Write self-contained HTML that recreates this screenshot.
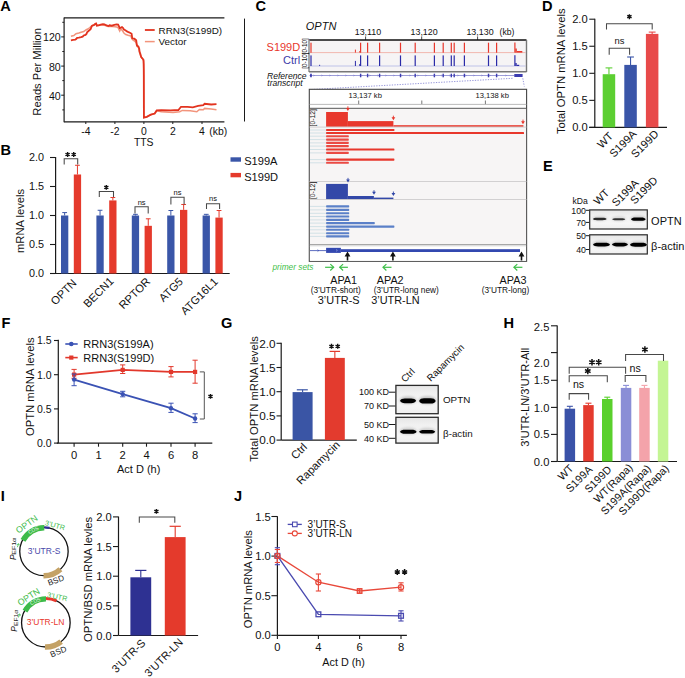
<!DOCTYPE html>
<html><head><meta charset="utf-8"><style>
html,body{margin:0;padding:0;background:#fff;}
svg{display:block;font-family:"Liberation Sans", sans-serif;}
</style></head><body>
<svg width="685" height="678" viewBox="0 0 685 678">
<defs>
<filter id="blur1" x="-20%" y="-50%" width="140%" height="200%"><feGaussianBlur stdDeviation="0.9"/></filter>
<filter id="blur2" x="-30%" y="-80%" width="160%" height="260%"><feGaussianBlur stdDeviation="1.2"/></filter>
<filter id="blur3" x="-20%" y="-80%" width="140%" height="260%"><feGaussianBlur stdDeviation="0.45"/></filter>
<linearGradient id="gBlot" x1="0" y1="0" x2="0" y2="1"><stop offset="0" stop-color="#e6e6e6"/><stop offset="0.3" stop-color="#f1f1f1"/><stop offset="0.7" stop-color="#f6f6f6"/><stop offset="1" stop-color="#efefef"/></linearGradient>
</defs>
<text x="0.3" y="10.9" font-size="14.6" text-anchor="start" fill="#000" font-weight="bold" >A</text>
<line x1="64.1" y1="17.4" x2="64.1" y2="122.3" stroke="#1a1a1a" stroke-width="1.2" />
<line x1="64.1" y1="17.9" x2="224.4" y2="17.9" stroke="#1a1a1a" stroke-width="1.2" />
<line x1="64.1" y1="121.8" x2="224.4" y2="121.8" stroke="#1a1a1a" stroke-width="1.2" />
<line x1="61.2" y1="36.9" x2="64.1" y2="36.9" stroke="#1a1a1a" stroke-width="1" />
<text x="60.7" y="41.4" font-size="10.6" text-anchor="end" fill="#111" >120</text>
<line x1="61.2" y1="66.1" x2="64.1" y2="66.1" stroke="#1a1a1a" stroke-width="1" />
<text x="60.7" y="70.6" font-size="10.6" text-anchor="end" fill="#111" >80</text>
<line x1="61.2" y1="95.2" x2="64.1" y2="95.2" stroke="#1a1a1a" stroke-width="1" />
<text x="60.7" y="99.7" font-size="10.6" text-anchor="end" fill="#111" >40</text>
<line x1="62.3" y1="22.3" x2="64.1" y2="22.3" stroke="#1a1a1a" stroke-width="1" />
<line x1="62.3" y1="51.5" x2="64.1" y2="51.5" stroke="#1a1a1a" stroke-width="1" />
<line x1="62.3" y1="80.6" x2="64.1" y2="80.6" stroke="#1a1a1a" stroke-width="1" />
<line x1="62.3" y1="109.9" x2="64.1" y2="109.9" stroke="#1a1a1a" stroke-width="1" />
<line x1="85.8" y1="121.8" x2="85.8" y2="124" stroke="#1a1a1a" stroke-width="1" />
<text x="85.8" y="134.8" font-size="10.4" text-anchor="middle" fill="#111" >-4</text>
<line x1="114.9" y1="121.8" x2="114.9" y2="124" stroke="#1a1a1a" stroke-width="1" />
<text x="114.9" y="134.8" font-size="10.4" text-anchor="middle" fill="#111" >-2</text>
<line x1="143.9" y1="121.8" x2="143.9" y2="124" stroke="#1a1a1a" stroke-width="1" />
<text x="143.9" y="134.8" font-size="10.4" text-anchor="middle" fill="#111" >0</text>
<line x1="172.8" y1="121.8" x2="172.8" y2="124" stroke="#1a1a1a" stroke-width="1" />
<text x="172.8" y="134.8" font-size="10.4" text-anchor="middle" fill="#111" >2</text>
<line x1="202" y1="121.8" x2="202" y2="124" stroke="#1a1a1a" stroke-width="1" />
<text x="202" y="134.8" font-size="10.4" text-anchor="middle" fill="#111" >4</text>
<text x="209.3" y="134.8" font-size="10.4" text-anchor="start" fill="#111" >(kb)</text>
<text x="143.7" y="145.6" font-size="10.4" text-anchor="middle" fill="#111" >TTS</text>
<text x="41.5" y="71.8" font-size="11.2" text-anchor="middle" fill="#111" transform="rotate(-90 41.5 71.8)" >Reads Per Million</text>
<line x1="144.9" y1="30" x2="154.7" y2="30" stroke="#e2331f" stroke-width="1.8" />
<text x="158.5" y="33.6" font-size="9.9" text-anchor="start" fill="#111" >RRN3(S199D)</text>
<line x1="144.9" y1="41.6" x2="154.7" y2="41.6" stroke="#f2947c" stroke-width="1.5" />
<text x="158.5" y="45.2" font-size="9.9" text-anchor="start" fill="#111" >Vector</text>
<line x1="244.5" y1="18.6" x2="244.5" y2="121.5" stroke="#1a1a1a" stroke-width="1" />
<polyline points="70.9,36.2 73.8,35.5 76,33.7 78.9,33 81.1,32.2 83.7,31.5 85.9,30 87.7,29 89.9,27.5 91.4,26 93.5,24.9 95.4,23.8 97.2,24.9 100.8,24.9 104.5,25.3 108.1,26.6 111.8,26.6 115.1,26.8 117.8,27.2 118.9,29.5 119.7,31 120.8,28.7 122.7,31 123.9,33 125.8,34.5 128.1,35.3 130.8,36 131.6,38 132.3,39.5 134.6,41 136.2,42.6 136.9,46.4 138.5,47.5 139.6,52.5 140.8,56.4 142.3,58.7 143.5,61 143.8,70 143.9,117.6 146.8,116.9 150.8,114.7 154.7,113.6 156.7,110.8 161.3,111.7 173.1,112.6 179.7,111.7 182.3,110.4 190.2,110.8 196.8,111.7 199.4,109.4 203.3,109.7 204.6,108.4 211.2,109 216.5,109.7" stroke="#f2947c" stroke-width="1.5" fill="none" stroke-linejoin="miter" />
<polyline points="70.9,40.3 73.1,39.9 75.3,39.7 76.4,38.8 77.1,37.9 78.9,37.6 81.1,37.1 82.6,36.6 83.7,35.5 85.5,34.9 86.6,33.7 87.1,32.2 88.8,30.8 90.6,29.3 91.4,27.1 92.1,25.7 93.9,25.2 95.4,23.8 96.1,23.5 96.8,25.7 98.7,25.3 100.8,24.7 103,24.2 104.5,24.4 106,25.2 107.4,25.7 108.5,26 109.6,25.3 111.8,25.7 114.3,24.9 116.6,24.3 118.1,24.5 118.9,26.1 119.7,28 120.8,27.6 122,27.1 123.1,28 123.9,29.5 125.4,30.3 127,31.4 128.5,32.2 130.4,33 131.6,33.7 132,36.4 132.3,38.3 134.3,38.7 136.2,40.3 136.6,43.3 136.9,45.2 138.5,46.8 139.2,48.7 139.6,51.8 140.4,54.1 141.2,57.1 142.3,58.3 143.5,59.8 143.7,64 143.8,75 143.9,117.6 146.8,116.9 150.8,114.7 154.7,113.6 156.7,110.4 161.3,110.1 170.5,110.4 178.4,110 181,106.8 187.6,106.8 192.8,107.3 198.1,105.8 203.3,105.1 204.6,103.8 211.2,104.5 216.5,104.2" stroke="#e2331f" stroke-width="1.8" fill="none" stroke-linejoin="miter" />
<text x="0.5" y="155" font-size="14.6" text-anchor="start" fill="#000" font-weight="bold" >B</text>
<line x1="55.6" y1="157" x2="55.6" y2="273.5" stroke="#1a1a1a" stroke-width="1.2" />
<line x1="50" y1="157.5" x2="55.6" y2="157.5" stroke="#1a1a1a" stroke-width="1.1" />
<text x="44" y="161.4" font-size="10.8" text-anchor="end" fill="#111" >2.0</text>
<line x1="50" y1="186.5" x2="55.6" y2="186.5" stroke="#1a1a1a" stroke-width="1.1" />
<text x="44" y="190.4" font-size="10.8" text-anchor="end" fill="#111" >1.5</text>
<line x1="50" y1="215.5" x2="55.6" y2="215.5" stroke="#1a1a1a" stroke-width="1.1" />
<text x="44" y="219.4" font-size="10.8" text-anchor="end" fill="#111" >1.0</text>
<line x1="50" y1="244.5" x2="55.6" y2="244.5" stroke="#1a1a1a" stroke-width="1.1" />
<text x="44" y="248.4" font-size="10.8" text-anchor="end" fill="#111" >0.5</text>
<line x1="50" y1="273.5" x2="55.6" y2="273.5" stroke="#1a1a1a" stroke-width="1.1" />
<text x="44" y="277.4" font-size="10.8" text-anchor="end" fill="#111" >0.0</text>
<line x1="50.9" y1="273.5" x2="229.7" y2="273.5" stroke="#1a1a1a" stroke-width="1.2" />
<text x="23.9" y="221" font-size="11.2" text-anchor="middle" fill="#111" transform="rotate(-90 23.9 221)" >mRNA levels</text>
<rect x="61" y="215.5" width="7.3" height="58" fill="#3a56a8" />
<line x1="64.65" y1="215.5" x2="64.65" y2="212.6" stroke="#3a56a8" stroke-width="1" />
<line x1="62.25" y1="212.6" x2="67.05" y2="212.6" stroke="#3a56a8" stroke-width="1" />
<rect x="73.8" y="174.49" width="7.3" height="99.01" fill="#e53a2c" />
<line x1="77.45" y1="174.49" x2="77.45" y2="165.27" stroke="#e53a2c" stroke-width="1" />
<line x1="75.05" y1="165.27" x2="79.85" y2="165.27" stroke="#e53a2c" stroke-width="1" />
<rect x="96.4" y="215.5" width="7.3" height="58" fill="#3a56a8" />
<line x1="100.05" y1="215.5" x2="100.05" y2="210.28" stroke="#3a56a8" stroke-width="1" />
<line x1="97.65" y1="210.28" x2="102.45" y2="210.28" stroke="#3a56a8" stroke-width="1" />
<rect x="109.2" y="200.42" width="7.3" height="73.08" fill="#e53a2c" />
<line x1="112.85" y1="200.42" x2="112.85" y2="197.52" stroke="#e53a2c" stroke-width="1" />
<line x1="110.45" y1="197.52" x2="115.25" y2="197.52" stroke="#e53a2c" stroke-width="1" />
<rect x="131.8" y="215.5" width="7.3" height="58" fill="#3a56a8" />
<line x1="135.45" y1="215.5" x2="135.45" y2="214.34" stroke="#3a56a8" stroke-width="1" />
<line x1="133.05" y1="214.34" x2="137.85" y2="214.34" stroke="#3a56a8" stroke-width="1" />
<rect x="144.6" y="225.82" width="7.3" height="47.68" fill="#e53a2c" />
<line x1="148.25" y1="225.82" x2="148.25" y2="218.81" stroke="#e53a2c" stroke-width="1" />
<line x1="145.85" y1="218.81" x2="150.65" y2="218.81" stroke="#e53a2c" stroke-width="1" />
<rect x="167.2" y="215.5" width="7.3" height="58" fill="#3a56a8" />
<line x1="170.85" y1="215.5" x2="170.85" y2="210.51" stroke="#3a56a8" stroke-width="1" />
<line x1="168.45" y1="210.51" x2="173.25" y2="210.51" stroke="#3a56a8" stroke-width="1" />
<rect x="180" y="209.87" width="7.3" height="63.63" fill="#e53a2c" />
<line x1="183.65" y1="209.87" x2="183.65" y2="204.48" stroke="#e53a2c" stroke-width="1" />
<line x1="181.25" y1="204.48" x2="186.05" y2="204.48" stroke="#e53a2c" stroke-width="1" />
<rect x="202.6" y="215.5" width="7.3" height="58" fill="#3a56a8" />
<line x1="206.25" y1="215.5" x2="206.25" y2="214.34" stroke="#3a56a8" stroke-width="1" />
<line x1="203.85" y1="214.34" x2="208.65" y2="214.34" stroke="#3a56a8" stroke-width="1" />
<rect x="215.4" y="217.59" width="7.3" height="55.91" fill="#e53a2c" />
<line x1="219.05" y1="217.59" x2="219.05" y2="210.51" stroke="#e53a2c" stroke-width="1" />
<line x1="216.65" y1="210.51" x2="221.45" y2="210.51" stroke="#e53a2c" stroke-width="1" />
<polyline points="64.2,164.5 64.2,158.8 77.7,158.8 77.7,164.5" stroke="#484848" stroke-width="1.05" fill="none" stroke-linejoin="miter" />
<path d="M67.60,152.00L67.60,157.00M65.43,153.25L69.77,155.75M69.77,153.25L65.43,155.75" stroke="#111" stroke-width="1.4" fill="none"/>
<path d="M73.70,152.00L73.70,157.00M71.53,153.25L75.87,155.75M75.87,153.25L71.53,155.75" stroke="#111" stroke-width="1.4" fill="none"/>
<polyline points="99.3,197.1 99.3,191.4 113.5,191.4 113.5,197.1" stroke="#484848" stroke-width="1.05" fill="none" stroke-linejoin="miter" />
<path d="M106.30,185.00L106.30,189.80M104.22,186.20L108.38,188.60M108.38,186.20L104.22,188.60" stroke="#111" stroke-width="1.4" fill="none"/>
<polyline points="135,213.6 135,206.8 148.2,206.8 148.2,213.6" stroke="#484848" stroke-width="1.05" fill="none" stroke-linejoin="miter" />
<text x="141.6" y="204.9" font-size="7.5" text-anchor="middle" fill="#111" >ns</text>
<polyline points="170.9,204.4 170.9,197.3 184.1,197.3 184.1,204.4" stroke="#484848" stroke-width="1.05" fill="none" stroke-linejoin="miter" />
<text x="177.5" y="195" font-size="7.5" text-anchor="middle" fill="#111" >ns</text>
<polyline points="206.5,209 206.5,203.8 219.6,203.8 219.6,209" stroke="#484848" stroke-width="1.05" fill="none" stroke-linejoin="miter" />
<text x="213" y="201.3" font-size="7.5" text-anchor="middle" fill="#111" >ns</text>
<text x="77.3" y="283.8" font-size="11.2" text-anchor="end" fill="#111" transform="rotate(-45 77.3 283.8)" >OPTN</text>
<text x="114.4" y="281.9" font-size="11.2" text-anchor="end" fill="#111" transform="rotate(-45 114.4 281.9)" >BECN1</text>
<text x="151.1" y="282.3" font-size="11.2" text-anchor="end" fill="#111" transform="rotate(-45 151.1 282.3)" >RPTOR</text>
<text x="183.7" y="282.3" font-size="11.2" text-anchor="end" fill="#111" transform="rotate(-45 183.7 282.3)" >ATG5</text>
<text x="218.6" y="282.3" font-size="11.2" text-anchor="end" fill="#111" transform="rotate(-45 218.6 282.3)" >ATG16L1</text>
<rect x="230.5" y="157.3" width="10.5" height="4.4" fill="#3a56a8" />
<text x="244.2" y="164.9" font-size="11.1" text-anchor="start" fill="#111" >S199A</text>
<rect x="230.5" y="172.9" width="10.5" height="4.4" fill="#e53a2c" />
<text x="244.2" y="180.5" font-size="11.1" text-anchor="start" fill="#111" >S199D</text>
<text x="255.4" y="11" font-size="14.6" text-anchor="start" fill="#000" font-weight="bold" >C</text>
<text x="305.8" y="30.2" font-size="11" text-anchor="start" fill="#111" font-style="italic" >OPTN</text>
<text x="368" y="35" font-size="8.9" text-anchor="middle" fill="#111" >13,110</text>
<line x1="365.6" y1="36.5" x2="365.6" y2="40" stroke="#1a1a1a" stroke-width="0.8" />
<text x="424.1" y="35" font-size="8.9" text-anchor="middle" fill="#111" >13,120</text>
<line x1="421.7" y1="36.5" x2="421.7" y2="40" stroke="#1a1a1a" stroke-width="0.8" />
<text x="480" y="35" font-size="8.9" text-anchor="middle" fill="#111" >13,130</text>
<line x1="477.6" y1="36.5" x2="477.6" y2="40" stroke="#1a1a1a" stroke-width="0.8" />
<text x="499.6" y="35" font-size="8.6" text-anchor="start" fill="#111" >(kb)</text>
<rect x="309.2" y="40" width="217" height="31.5" fill="#f6f4f5" />
<line x1="310" y1="52.6" x2="525.5" y2="52.6" stroke="#f0b0a8" stroke-width="0.9" />
<line x1="310" y1="66" x2="525.5" y2="66" stroke="#b8bce8" stroke-width="0.9" />
<line x1="309.2" y1="40" x2="526.5" y2="40" stroke="#111" stroke-width="1.3" />
<line x1="309" y1="40" x2="309" y2="72" stroke="#888" stroke-width="1.4" />
<line x1="526.5" y1="40" x2="526.5" y2="72" stroke="#777" stroke-width="1.4" />
<line x1="309" y1="71.7" x2="526.5" y2="71.7" stroke="#777" stroke-width="1.6" />
<text x="307.5" y="46.3" font-size="6.3" text-anchor="middle" fill="#111" transform="rotate(-90 307.5 46.3)" >[0-10]</text>
<text x="307.5" y="60.6" font-size="6.3" text-anchor="middle" fill="#111" transform="rotate(-90 307.5 60.6)" >[0-10]</text>
<text x="300.2" y="51.2" font-size="11" text-anchor="end" fill="#e8372c" >S199D</text>
<text x="300.2" y="64.4" font-size="11" text-anchor="end" fill="#3c3ca8" >Ctrl</text>
<rect x="310.4" y="42.7" width="1.2" height="10" fill="#e8372c" />
<rect x="310.4" y="55.4" width="1.2" height="10.6" fill="#2b2ba8" />
<rect x="360" y="42.7" width="1.2" height="10" fill="#e8372c" />
<rect x="360" y="55.4" width="1.2" height="10.6" fill="#2b2ba8" />
<rect x="367" y="42.7" width="1.2" height="10" fill="#e8372c" />
<rect x="367" y="55.4" width="1.2" height="10.6" fill="#2b2ba8" />
<rect x="379" y="42.7" width="1.2" height="10" fill="#e8372c" />
<rect x="379" y="55.4" width="1.2" height="10.6" fill="#2b2ba8" />
<rect x="399.9" y="42.7" width="1.2" height="10" fill="#e8372c" />
<rect x="399.9" y="55.4" width="1.2" height="10.6" fill="#2b2ba8" />
<rect x="414.6" y="42.7" width="1.2" height="10" fill="#e8372c" />
<rect x="414.6" y="55.4" width="1.2" height="10.6" fill="#2b2ba8" />
<rect x="433.8" y="42.7" width="1.2" height="10" fill="#e8372c" />
<rect x="433.8" y="55.4" width="1.2" height="10.6" fill="#2b2ba8" />
<rect x="442.6" y="42.7" width="1.2" height="10" fill="#e8372c" />
<rect x="442.6" y="55.4" width="1.2" height="10.6" fill="#2b2ba8" />
<rect x="450.7" y="42.7" width="1.2" height="10" fill="#e8372c" />
<rect x="450.7" y="55.4" width="1.2" height="10.6" fill="#2b2ba8" />
<rect x="453.6" y="42.7" width="1.2" height="10" fill="#e8372c" />
<rect x="453.6" y="55.4" width="1.2" height="10.6" fill="#2b2ba8" />
<rect x="463.8" y="42.7" width="1.2" height="10" fill="#e8372c" />
<rect x="463.8" y="55.4" width="1.2" height="10.6" fill="#2b2ba8" />
<rect x="487.9" y="42.7" width="1.2" height="10" fill="#e8372c" />
<rect x="487.9" y="55.4" width="1.2" height="10.6" fill="#2b2ba8" />
<rect x="496" y="42.7" width="1.2" height="10" fill="#e8372c" />
<rect x="496" y="55.4" width="1.2" height="10.6" fill="#2b2ba8" />
<rect x="354.9" y="49.6" width="1" height="3" fill="#e8372c" />
<rect x="354.9" y="60.9" width="1" height="5.1" fill="#2b2ba8" />
<rect x="359.3" y="51" width="1" height="1.6" fill="#e8372c" />
<rect x="359.3" y="64" width="1" height="2" fill="#2b2ba8" />
<rect x="319.2" y="64.8" width="0.9" height="1.2" fill="#2b2ba8" />
<rect x="514.3" y="42.5" width="1.2" height="10.1" fill="#e8372c" />
<rect x="515.3" y="48.5" width="1.5" height="4.1" fill="#e8372c" />
<rect x="516.8" y="51" width="5.5" height="1.6" fill="#e8372c" />
<rect x="514.3" y="55.2" width="1.2" height="10.8" fill="#2b2ba8" />
<rect x="515.3" y="63" width="1.4" height="3" fill="#2b2ba8" />
<rect x="516.7" y="64.8" width="2.5" height="1.2" fill="#2b2ba8" />
<text x="306.6" y="78.5" font-size="8.6" text-anchor="end" fill="#111" font-style="italic" >Reference</text>
<text x="302.6" y="85.8" font-size="8.6" text-anchor="end" fill="#111" font-style="italic" >transcript</text>
<line x1="309.5" y1="75.5" x2="514.5" y2="75.5" stroke="#5a5ac0" stroke-width="0.6" />
<rect x="514.3" y="74" width="8.3" height="3" fill="#3c3cb0" />
<rect x="310.3" y="73.7" width="1.4" height="3.6" fill="#3c3cb0" />
<rect x="359.9" y="73.7" width="1.4" height="3.6" fill="#3c3cb0" />
<rect x="366.9" y="73.7" width="1.4" height="3.6" fill="#3c3cb0" />
<rect x="378.9" y="73.7" width="1.4" height="3.6" fill="#3c3cb0" />
<rect x="399.8" y="73.7" width="1.4" height="3.6" fill="#3c3cb0" />
<rect x="414.5" y="73.7" width="1.4" height="3.6" fill="#3c3cb0" />
<rect x="433.7" y="73.7" width="1.4" height="3.6" fill="#3c3cb0" />
<rect x="442.5" y="73.7" width="1.4" height="3.6" fill="#3c3cb0" />
<rect x="450.6" y="73.7" width="1.4" height="3.6" fill="#3c3cb0" />
<rect x="453.5" y="73.7" width="1.4" height="3.6" fill="#3c3cb0" />
<rect x="463.7" y="73.7" width="1.4" height="3.6" fill="#3c3cb0" />
<rect x="487.8" y="73.7" width="1.4" height="3.6" fill="#3c3cb0" />
<rect x="495.9" y="73.7" width="1.4" height="3.6" fill="#3c3cb0" />
<rect x="310" y="74.4" width="1.6" height="2.2" fill="#3c3cb0" />
<path d="M313.5,74.9 L314.4,75.5 L313.5,76.1" stroke="#6a6ac8" stroke-width="0.5" fill="none"/>
<path d="M321.5,74.9 L322.4,75.5 L321.5,76.1" stroke="#6a6ac8" stroke-width="0.5" fill="none"/>
<path d="M329.5,74.9 L330.4,75.5 L329.5,76.1" stroke="#6a6ac8" stroke-width="0.5" fill="none"/>
<path d="M337.5,74.9 L338.4,75.5 L337.5,76.1" stroke="#6a6ac8" stroke-width="0.5" fill="none"/>
<path d="M345.5,74.9 L346.4,75.5 L345.5,76.1" stroke="#6a6ac8" stroke-width="0.5" fill="none"/>
<path d="M353.5,74.9 L354.4,75.5 L353.5,76.1" stroke="#6a6ac8" stroke-width="0.5" fill="none"/>
<path d="M361.5,74.9 L362.4,75.5 L361.5,76.1" stroke="#6a6ac8" stroke-width="0.5" fill="none"/>
<path d="M369.5,74.9 L370.4,75.5 L369.5,76.1" stroke="#6a6ac8" stroke-width="0.5" fill="none"/>
<path d="M377.5,74.9 L378.4,75.5 L377.5,76.1" stroke="#6a6ac8" stroke-width="0.5" fill="none"/>
<path d="M385.5,74.9 L386.4,75.5 L385.5,76.1" stroke="#6a6ac8" stroke-width="0.5" fill="none"/>
<path d="M393.5,74.9 L394.4,75.5 L393.5,76.1" stroke="#6a6ac8" stroke-width="0.5" fill="none"/>
<path d="M401.5,74.9 L402.4,75.5 L401.5,76.1" stroke="#6a6ac8" stroke-width="0.5" fill="none"/>
<path d="M409.5,74.9 L410.4,75.5 L409.5,76.1" stroke="#6a6ac8" stroke-width="0.5" fill="none"/>
<path d="M417.5,74.9 L418.4,75.5 L417.5,76.1" stroke="#6a6ac8" stroke-width="0.5" fill="none"/>
<path d="M425.5,74.9 L426.4,75.5 L425.5,76.1" stroke="#6a6ac8" stroke-width="0.5" fill="none"/>
<path d="M433.5,74.9 L434.4,75.5 L433.5,76.1" stroke="#6a6ac8" stroke-width="0.5" fill="none"/>
<path d="M441.5,74.9 L442.4,75.5 L441.5,76.1" stroke="#6a6ac8" stroke-width="0.5" fill="none"/>
<path d="M449.5,74.9 L450.4,75.5 L449.5,76.1" stroke="#6a6ac8" stroke-width="0.5" fill="none"/>
<path d="M457.5,74.9 L458.4,75.5 L457.5,76.1" stroke="#6a6ac8" stroke-width="0.5" fill="none"/>
<path d="M465.5,74.9 L466.4,75.5 L465.5,76.1" stroke="#6a6ac8" stroke-width="0.5" fill="none"/>
<path d="M473.5,74.9 L474.4,75.5 L473.5,76.1" stroke="#6a6ac8" stroke-width="0.5" fill="none"/>
<path d="M481.5,74.9 L482.4,75.5 L481.5,76.1" stroke="#6a6ac8" stroke-width="0.5" fill="none"/>
<path d="M489.5,74.9 L490.4,75.5 L489.5,76.1" stroke="#6a6ac8" stroke-width="0.5" fill="none"/>
<path d="M497.5,74.9 L498.4,75.5 L497.5,76.1" stroke="#6a6ac8" stroke-width="0.5" fill="none"/>
<path d="M505.5,74.9 L506.4,75.5 L505.5,76.1" stroke="#6a6ac8" stroke-width="0.5" fill="none"/>
<path d="M512.5,78.3 L309.8,89.6" stroke="#6a6ac8" stroke-width="0.7" stroke-dasharray="1.3,1.3" fill="none"/>
<path d="M522.8,78.3 L524.3,86.5" stroke="#6a6ac8" stroke-width="0.7" stroke-dasharray="1.3,1.3" fill="none"/>
<rect x="309.3" y="89.3" width="217.3" height="172" fill="#ffffff" stroke="#444" stroke-width="1.1"/>
<rect x="309.9" y="108.3" width="216.2" height="136.5" fill="#f7f5f5" />
<text x="365.2" y="98" font-size="7.6" text-anchor="middle" fill="#111" >13,137 kb</text>
<text x="492.2" y="98" font-size="7.6" text-anchor="middle" fill="#111" >13,138 kb</text>
<line x1="358.7" y1="100.5" x2="358.7" y2="104.2" stroke="#555" stroke-width="0.8" />
<line x1="421.8" y1="100.5" x2="421.8" y2="104.2" stroke="#555" stroke-width="0.8" />
<line x1="485.4" y1="100.5" x2="485.4" y2="104.2" stroke="#555" stroke-width="0.8" />
<line x1="309.5" y1="104.4" x2="526.5" y2="104.4" stroke="#aaa" stroke-width="0.8" />
<line x1="309.5" y1="108.3" x2="526.5" y2="108.3" stroke="#555" stroke-width="1" />
<rect x="326.1" y="112" width="21.8" height="14.8" fill="#e8372c" />
<rect x="347.9" y="121.1" width="45.5" height="5.7" fill="#e8372c" />
<rect x="393.4" y="125.2" width="130" height="1.6" fill="#e8372c" />
<line x1="309.5" y1="127.1" x2="526.5" y2="127.1" stroke="#c8c6c8" stroke-width="0.8" />
<text x="315.2" y="117.8" font-size="6.8" text-anchor="middle" fill="#111" transform="rotate(-90 315.2 117.8)" >[0-12]</text>
<path d="M346.0,107.9 L349.79999999999995,107.9 L347.9,110.9 Z" fill="#e8372c"/>
<line x1="347.9" y1="106.3" x2="347.9" y2="108.9" stroke="#e8372c" stroke-width="0.9" />
<path d="M391.5,117.3 L395.29999999999995,117.3 L393.4,120.3 Z" fill="#e8372c"/>
<line x1="393.4" y1="115.7" x2="393.4" y2="118.3" stroke="#e8372c" stroke-width="0.9" />
<path d="M521.1,121.2 L524.9,121.2 L523.0,124.2 Z" fill="#e8372c"/>
<line x1="523" y1="119.6" x2="523" y2="122.2" stroke="#e8372c" stroke-width="0.9" />
<line x1="310" y1="130" x2="326" y2="130" stroke="#b9d3dc" stroke-width="0.6" />
<rect x="326.1" y="128.95" width="68.3" height="2.1" fill="#e8372c" rx="0.6"/>
<line x1="310" y1="133" x2="326" y2="133" stroke="#b9d3dc" stroke-width="0.6" />
<rect x="326.1" y="131.95" width="197.9" height="2.1" fill="#e8372c" rx="0.6"/>
<line x1="310" y1="136.2" x2="326" y2="136.2" stroke="#b9d3dc" stroke-width="0.6" />
<rect x="326.1" y="135.15" width="22.7" height="2.1" fill="#ea4a44" rx="0.6"/>
<line x1="310" y1="139.6" x2="326" y2="139.6" stroke="#b9d3dc" stroke-width="0.6" />
<rect x="326.1" y="138.55" width="22.7" height="2.1" fill="#ea4a44" rx="0.6"/>
<line x1="310" y1="142.9" x2="326" y2="142.9" stroke="#b9d3dc" stroke-width="0.6" />
<rect x="326.1" y="141.85" width="22.7" height="2.1" fill="#ea4a44" rx="0.6"/>
<line x1="310" y1="146.1" x2="326" y2="146.1" stroke="#b9d3dc" stroke-width="0.6" />
<rect x="326.1" y="145.05" width="22.7" height="2.1" fill="#ea4a44" rx="0.6"/>
<line x1="310" y1="149.5" x2="326" y2="149.5" stroke="#b9d3dc" stroke-width="0.6" />
<rect x="326.1" y="148.45" width="68.3" height="2.1" fill="#e8372c" rx="0.6"/>
<line x1="310" y1="152.9" x2="326" y2="152.9" stroke="#b9d3dc" stroke-width="0.6" />
<rect x="326.1" y="151.85" width="22.7" height="2.1" fill="#ea4a44" rx="0.6"/>
<line x1="310" y1="159.6" x2="326" y2="159.6" stroke="#b9d3dc" stroke-width="0.6" />
<rect x="326.1" y="158.55" width="68.3" height="2.1" fill="#e8372c" rx="0.6"/>
<line x1="310" y1="162.8" x2="326" y2="162.8" stroke="#b9d3dc" stroke-width="0.6" />
<rect x="326.1" y="161.75" width="22.7" height="2.1" fill="#ea4a44" rx="0.6"/>
<line x1="309.5" y1="181.5" x2="526.5" y2="181.5" stroke="#c8c6c8" stroke-width="0.8" />
<rect x="326.1" y="183.9" width="21.8" height="15.4" fill="#3348a8" />
<rect x="347.9" y="196" width="26" height="3.3" fill="#3348a8" />
<rect x="373.9" y="197.6" width="19.5" height="1.7" fill="#3348a8" />
<line x1="309.5" y1="199.5" x2="526.5" y2="199.5" stroke="#c8c6c8" stroke-width="0.8" />
<text x="315.2" y="190.4" font-size="6.8" text-anchor="middle" fill="#111" transform="rotate(-90 315.2 190.4)" >[0-12]</text>
<path d="M346.1,179.5 L349.9,179.5 L348.0,182.5 Z" fill="#3348a8"/>
<line x1="348" y1="177.9" x2="348" y2="180.5" stroke="#3348a8" stroke-width="0.9" />
<path d="M372.1,191.8 L375.9,191.8 L374.0,194.8 Z" fill="#3348a8"/>
<line x1="374" y1="190.2" x2="374" y2="192.8" stroke="#3348a8" stroke-width="0.9" />
<path d="M391.5,193.1 L395.29999999999995,193.1 L393.4,196.1 Z" fill="#3348a8"/>
<line x1="393.4" y1="191.5" x2="393.4" y2="194.1" stroke="#3348a8" stroke-width="0.9" />
<line x1="310" y1="206.4" x2="326" y2="206.4" stroke="#b9d3dc" stroke-width="0.6" />
<rect x="326.1" y="205.35" width="23.1" height="2.1" fill="#5b80c8" rx="0.6"/>
<line x1="310" y1="209.9" x2="326" y2="209.9" stroke="#b9d3dc" stroke-width="0.6" />
<rect x="326.1" y="208.85" width="23.1" height="2.1" fill="#5b80c8" rx="0.6"/>
<line x1="310" y1="213.3" x2="326" y2="213.3" stroke="#b9d3dc" stroke-width="0.6" />
<rect x="326.1" y="212.25" width="23.1" height="2.1" fill="#5b80c8" rx="0.6"/>
<line x1="310" y1="216.5" x2="326" y2="216.5" stroke="#b9d3dc" stroke-width="0.6" />
<rect x="326.1" y="215.45" width="23.1" height="2.1" fill="#5b80c8" rx="0.6"/>
<line x1="310" y1="219.9" x2="326" y2="219.9" stroke="#b9d3dc" stroke-width="0.6" />
<rect x="326.1" y="218.85" width="23.1" height="2.1" fill="#5b80c8" rx="0.6"/>
<line x1="310" y1="223.1" x2="326" y2="223.1" stroke="#b9d3dc" stroke-width="0.6" />
<rect x="326.1" y="222.05" width="48.7" height="2.1" fill="#5b80c8" rx="0.6"/>
<line x1="310" y1="226.6" x2="326" y2="226.6" stroke="#b9d3dc" stroke-width="0.6" />
<rect x="326.1" y="225.55" width="68.3" height="2.1" fill="#5b80c8" rx="0.6"/>
<line x1="310" y1="229.8" x2="326" y2="229.8" stroke="#b9d3dc" stroke-width="0.6" />
<rect x="326.1" y="228.75" width="23.1" height="2.1" fill="#5b80c8" rx="0.6"/>
<line x1="310" y1="233.2" x2="326" y2="233.2" stroke="#b9d3dc" stroke-width="0.6" />
<rect x="326.1" y="232.15" width="23.1" height="2.1" fill="#5b80c8" rx="0.6"/>
<line x1="310" y1="236.4" x2="326" y2="236.4" stroke="#b9d3dc" stroke-width="0.6" />
<rect x="326.1" y="235.35" width="23.1" height="2.1" fill="#5b80c8" rx="0.6"/>
<line x1="309.5" y1="244.6" x2="526.5" y2="244.6" stroke="#888" stroke-width="0.8" />
<line x1="309.5" y1="246" x2="526.5" y2="246" stroke="#bbb" stroke-width="0.8" />
<rect x="309.9" y="246.5" width="216.2" height="14.3" fill="#ffffff" />
<line x1="310" y1="250.6" x2="326.1" y2="250.6" stroke="#3348b0" stroke-width="0.8" />
<path d="M317.5,249.6 L318.8,250.6 L317.5,251.6" stroke="#3348b0" stroke-width="0.6" fill="none"/>
<rect x="326.1" y="247.8" width="14.8" height="5.1" fill="#3348b0" />
<path d="M336.0,249.4 L337.4,250.4 L336.0,251.4" stroke="#9aa6e0" stroke-width="0.6" fill="none"/>
<rect x="340.9" y="249.2" width="179.1" height="2.8" fill="#3348b0" />
<path d="M347.5,251.6 L344.6,256.4 L346.7,256.4 L346.7,260.6 L348.3,260.6 L348.3,256.4 L350.4,256.4 Z" fill="#111"/>
<path d="M392.9,251.6 L390.0,256.4 L392.09999999999997,256.4 L392.09999999999997,260.6 L393.7,260.6 L393.7,256.4 L395.79999999999995,256.4 Z" fill="#111"/>
<path d="M521.5,251.6 L518.6,256.4 L520.7,256.4 L520.7,260.6 L522.3,260.6 L522.3,256.4 L524.4,256.4 Z" fill="#111"/>
<line x1="325.1" y1="267.3" x2="333.7" y2="267.3" stroke="#3fbf4a" stroke-width="1.2"/>
<path d="M330.3,264.1 L333.7,267.3 L330.3,270.5" stroke="#3fbf4a" stroke-width="1.2" fill="none"/>
<line x1="339.7" y1="267.3" x2="347.9" y2="267.3" stroke="#3fbf4a" stroke-width="1.2"/>
<path d="M343.09999999999997,264.1 L339.7,267.3 L343.09999999999997,270.5" stroke="#3fbf4a" stroke-width="1.2" fill="none"/>
<line x1="383.0" y1="267.3" x2="391.5" y2="267.3" stroke="#3fbf4a" stroke-width="1.2"/>
<path d="M386.4,264.1 L383.0,267.3 L386.4,270.5" stroke="#3fbf4a" stroke-width="1.2" fill="none"/>
<line x1="513.9" y1="267.3" x2="522.4" y2="267.3" stroke="#3fbf4a" stroke-width="1.2"/>
<path d="M517.3,264.1 L513.9,267.3 L517.3,270.5" stroke="#3fbf4a" stroke-width="1.2" fill="none"/>
<text x="313.5" y="270.2" font-size="8.3" text-anchor="end" fill="#3fbf4a" font-style="italic" >primer sets</text>
<text x="343.6" y="284" font-size="10.8" text-anchor="middle" fill="#111" >APA1</text>
<text x="390.2" y="284" font-size="10.8" text-anchor="middle" fill="#111" >APA2</text>
<text x="513" y="284" font-size="10.8" text-anchor="middle" fill="#111" >APA3</text>
<text x="335.75" y="292.5" font-size="8.3" text-anchor="middle" fill="#111" >(3’UTR-short)</text>
<text x="406.25" y="292.5" font-size="8.3" text-anchor="middle" fill="#111" >(3’UTR-long new)</text>
<text x="505.45" y="292.5" font-size="8.3" text-anchor="middle" fill="#111" >(3’UTR-long)</text>
<text x="338.7" y="303.8" font-size="10.9" text-anchor="middle" fill="#111" >3’UTR-S</text>
<text x="395.4" y="303.8" font-size="10.9" text-anchor="middle" fill="#111" >3’UTR-LN</text>
<text x="542" y="11.3" font-size="14.6" text-anchor="start" fill="#000" font-weight="bold" >D</text>
<line x1="594.8" y1="18.8" x2="594.8" y2="127.4" stroke="#1a1a1a" stroke-width="1.2" />
<line x1="589.3" y1="19.2" x2="594.8" y2="19.2" stroke="#1a1a1a" stroke-width="1.1" />
<text x="587.7" y="23.2" font-size="11.2" text-anchor="end" fill="#111" >2.0</text>
<line x1="589.3" y1="46.25" x2="594.8" y2="46.25" stroke="#1a1a1a" stroke-width="1.1" />
<text x="587.7" y="50.25" font-size="11.2" text-anchor="end" fill="#111" >1.5</text>
<line x1="589.3" y1="73.3" x2="594.8" y2="73.3" stroke="#1a1a1a" stroke-width="1.1" />
<text x="587.7" y="77.3" font-size="11.2" text-anchor="end" fill="#111" >1.0</text>
<line x1="589.3" y1="100.35" x2="594.8" y2="100.35" stroke="#1a1a1a" stroke-width="1.1" />
<text x="587.7" y="104.35" font-size="11.2" text-anchor="end" fill="#111" >0.5</text>
<line x1="589.3" y1="127.4" x2="594.8" y2="127.4" stroke="#1a1a1a" stroke-width="1.1" />
<text x="587.7" y="131.4" font-size="11.2" text-anchor="end" fill="#111" >0.0</text>
<line x1="589.2" y1="127.4" x2="667" y2="127.4" stroke="#1a1a1a" stroke-width="1.2" />
<text x="564.7" y="71.2" font-size="11.25" text-anchor="middle" fill="#111" transform="rotate(-90 564.7 71.2)" >Total OPTN mRNA levels</text>
<rect x="602.7" y="74.2" width="12.5" height="53.2" fill="#5ccf32" />
<line x1="608.95" y1="74.2" x2="608.95" y2="67.9" stroke="#5ccf32" stroke-width="1.1" />
<line x1="605.55" y1="67.9" x2="612.35" y2="67.9" stroke="#5ccf32" stroke-width="1.1" />
<rect x="624.3" y="64.9" width="12.5" height="62.5" fill="#3a55a8" />
<line x1="630.55" y1="64.9" x2="630.55" y2="57" stroke="#3a55a8" stroke-width="1.1" />
<line x1="627.15" y1="57" x2="633.95" y2="57" stroke="#3a55a8" stroke-width="1.1" />
<rect x="645.9" y="33.9" width="12.5" height="93.5" fill="#e84a4a" />
<line x1="652.15" y1="33.9" x2="652.15" y2="32.1" stroke="#e84a4a" stroke-width="1.1" />
<line x1="648.75" y1="32.1" x2="655.55" y2="32.1" stroke="#e84a4a" stroke-width="1.1" />
<polyline points="609.2,54.8 609.2,48.2 629.6,48.2 629.6,54.8" stroke="#484848" stroke-width="1.05" fill="none" stroke-linejoin="miter" />
<text x="619.4" y="43.5" font-size="9.4" text-anchor="middle" fill="#111" >ns</text>
<polyline points="606.5,29.4 606.5,23.8 652.2,23.8 652.2,29.4" stroke="#484848" stroke-width="1.05" fill="none" stroke-linejoin="miter" />
<path d="M629.40,14.20L629.40,19.20M627.23,15.45L631.57,17.95M631.57,15.45L627.23,17.95" stroke="#111" stroke-width="1.4" fill="none"/>
<text x="613.8" y="136.8" font-size="11" text-anchor="end" fill="#111" transform="rotate(-45 613.8 136.8)" >WT</text>
<text x="637.3" y="134.6" font-size="11" text-anchor="end" fill="#111" transform="rotate(-45 637.3 134.6)" >S199A</text>
<text x="659.4" y="134.7" font-size="11" text-anchor="end" fill="#111" transform="rotate(-45 659.4 134.7)" >S199D</text>
<text x="543" y="171.3" font-size="14.6" text-anchor="start" fill="#000" font-weight="bold" >E</text>
<text x="610" y="193.5" font-size="10.9" text-anchor="end" fill="#111" transform="rotate(-45 610 193.5)" >WT</text>
<text x="639.4" y="183.9" font-size="10.9" text-anchor="end" fill="#111" transform="rotate(-45 639.4 183.9)" >S199A</text>
<text x="658.4" y="181.2" font-size="10.9" text-anchor="end" fill="#111" transform="rotate(-45 658.4 181.2)" >S199D</text>
<text x="580.2" y="203.9" font-size="8.6" text-anchor="middle" fill="#111" >kDa</text>
<text x="586" y="213.5" font-size="8.8" text-anchor="end" fill="#111" >100</text>
<line x1="585.8" y1="210.3" x2="589.3" y2="210.3" stroke="#1a1a1a" stroke-width="1" />
<text x="586" y="225.6" font-size="8.8" text-anchor="end" fill="#111" >70</text>
<line x1="585.8" y1="222.4" x2="589.3" y2="222.4" stroke="#1a1a1a" stroke-width="1" />
<text x="586" y="238.9" font-size="8.8" text-anchor="end" fill="#111" >50</text>
<line x1="585.8" y1="235.7" x2="589.3" y2="235.7" stroke="#1a1a1a" stroke-width="1" />
<text x="586" y="252.7" font-size="8.8" text-anchor="end" fill="#111" >40</text>
<line x1="585.8" y1="249.5" x2="589.3" y2="249.5" stroke="#1a1a1a" stroke-width="1" />
<rect x="589.7" y="209.9" width="57.6" height="19.1" fill="url(#gBlot)" stroke="#2a2a2a" stroke-width="1.2"/>
<rect x="589.7" y="234.8" width="57.6" height="19.2" fill="url(#gBlot)" stroke="#2a2a2a" stroke-width="1.2"/>
<ellipse cx="599.75" cy="218.40" rx="7.45" ry="2.75" fill="#d8d8d8" filter="url(#blur2)"/>
<path d="M592.80,219.00 C593.43,218.19 594.88,217.85 596.97,217.85 L602.53,217.85 C604.62,217.85 606.07,218.19 606.70,219.00 C606.07,219.81 604.62,220.15 602.53,220.15 L596.97,220.15 C594.88,220.15 593.43,219.81 592.80,219.00 Z" fill="#2a2a2a" filter="url(#blur3)"/>
<ellipse cx="618.75" cy="218.70" rx="7.05" ry="2.65" fill="#d8d8d8" filter="url(#blur2)"/>
<path d="M612.20,219.30 C612.79,218.56 614.17,218.25 616.13,218.25 L621.37,218.25 C623.33,218.25 624.71,218.56 625.30,219.30 C624.71,220.04 623.33,220.35 621.37,220.35 L616.13,220.35 C614.17,220.35 612.79,220.04 612.20,219.30 Z" fill="#333" filter="url(#blur3)"/>
<ellipse cx="638.35" cy="218.60" rx="7.85" ry="3.20" fill="#cfcfcf" filter="url(#blur2)"/>
<path d="M631.00,219.20 C631.66,218.08 633.21,217.60 635.41,217.60 L641.29,217.60 C643.50,217.60 645.04,218.08 645.70,219.20 C645.04,220.32 643.50,220.80 641.29,220.80 L635.41,220.80 C633.21,220.80 631.66,220.32 631.00,219.20 Z" fill="#050505" filter="url(#blur3)"/>
<ellipse cx="601.50" cy="244.00" rx="9.00" ry="3.55" fill="#d0d0d0" filter="url(#blur2)"/>
<path d="M593.00,244.60 C593.76,243.23 595.55,242.65 598.10,242.65 L604.90,242.65 C607.45,242.65 609.24,243.23 610.00,244.60 C609.24,245.97 607.45,246.55 604.90,246.55 L598.10,246.55 C595.55,246.55 593.76,245.97 593.00,244.60 Z" fill="#000" filter="url(#blur3)"/>
<ellipse cx="619.95" cy="244.00" rx="8.55" ry="3.40" fill="#d0d0d0" filter="url(#blur2)"/>
<path d="M611.90,244.60 C612.62,243.34 614.31,242.80 616.73,242.80 L623.17,242.80 C625.59,242.80 627.28,243.34 628.00,244.60 C627.28,245.86 625.59,246.40 623.17,246.40 L616.73,246.40 C614.31,246.40 612.62,245.86 611.90,244.60 Z" fill="#000" filter="url(#blur3)"/>
<ellipse cx="638.50" cy="244.20" rx="9.00" ry="3.55" fill="#d0d0d0" filter="url(#blur2)"/>
<path d="M630.00,244.80 C630.76,243.44 632.55,242.85 635.10,242.85 L641.90,242.85 C644.45,242.85 646.24,243.44 647.00,244.80 C646.24,246.17 644.45,246.75 641.90,246.75 L635.10,246.75 C632.55,246.75 630.76,246.17 630.00,244.80 Z" fill="#000" filter="url(#blur3)"/>
<text x="651.1" y="225.4" font-size="11" text-anchor="start" fill="#111" >OPTN</text>
<text x="651.1" y="250.2" font-size="11" text-anchor="start" fill="#111" >β-actin</text>
<text x="1.5" y="327.8" font-size="14.6" text-anchor="start" fill="#000" font-weight="bold" >F</text>
<line x1="58.3" y1="339.8" x2="58.3" y2="443.1" stroke="#1a1a1a" stroke-width="1.2" />
<line x1="54" y1="340.5" x2="58.3" y2="340.5" stroke="#1a1a1a" stroke-width="1.1" />
<text x="51.6" y="344.3" font-size="10.5" text-anchor="end" fill="#111" >1.5</text>
<line x1="54" y1="374.7" x2="58.3" y2="374.7" stroke="#1a1a1a" stroke-width="1.1" />
<text x="51.6" y="378.5" font-size="10.5" text-anchor="end" fill="#111" >1.0</text>
<line x1="54" y1="408.9" x2="58.3" y2="408.9" stroke="#1a1a1a" stroke-width="1.1" />
<text x="51.6" y="412.7" font-size="10.5" text-anchor="end" fill="#111" >0.5</text>
<line x1="54" y1="443.1" x2="58.3" y2="443.1" stroke="#1a1a1a" stroke-width="1.1" />
<text x="51.6" y="446.9" font-size="10.5" text-anchor="end" fill="#111" >0.0</text>
<line x1="56.9" y1="443.1" x2="212.3" y2="443.1" stroke="#1a1a1a" stroke-width="1.2" />
<line x1="74.1" y1="443.1" x2="74.1" y2="446.7" stroke="#1a1a1a" stroke-width="1.1" />
<text x="74.1" y="458.6" font-size="11.2" text-anchor="middle" fill="#111" >0</text>
<line x1="98.5" y1="443.1" x2="98.5" y2="446.7" stroke="#1a1a1a" stroke-width="1.1" />
<text x="98.5" y="458.6" font-size="11.2" text-anchor="middle" fill="#111" >1</text>
<line x1="122.7" y1="443.1" x2="122.7" y2="446.7" stroke="#1a1a1a" stroke-width="1.1" />
<text x="122.7" y="458.6" font-size="11.2" text-anchor="middle" fill="#111" >2</text>
<line x1="146.5" y1="443.1" x2="146.5" y2="446.7" stroke="#1a1a1a" stroke-width="1.1" />
<text x="146.5" y="458.6" font-size="11.2" text-anchor="middle" fill="#111" >4</text>
<line x1="171" y1="443.1" x2="171" y2="446.7" stroke="#1a1a1a" stroke-width="1.1" />
<text x="171" y="458.6" font-size="11.2" text-anchor="middle" fill="#111" >6</text>
<line x1="195.1" y1="443.1" x2="195.1" y2="446.7" stroke="#1a1a1a" stroke-width="1.1" />
<text x="195.1" y="458.6" font-size="11.2" text-anchor="middle" fill="#111" >8</text>
<text x="138.7" y="473.3" font-size="11" text-anchor="middle" fill="#111" >Act D (h)</text>
<text x="34.5" y="386.7" font-size="11.25" text-anchor="middle" fill="#111" transform="rotate(-90 34.5 386.7)" >OPTN mRNA levels</text>
<polyline points="74.1,374.6 122.7,369.9 171,371.9 195.1,371.9" stroke="#e2382c" stroke-width="1.9" fill="none" stroke-linejoin="miter" />
<polyline points="74.1,379.6 122.7,394.1 171,408.2 195.1,418.5" stroke="#3a52b4" stroke-width="1.9" fill="none" stroke-linejoin="miter" />
<line x1="74.1" y1="369.4" x2="74.1" y2="378.3" stroke="#e2382c" stroke-width="1" />
<line x1="71.5" y1="369.4" x2="76.7" y2="369.4" stroke="#e2382c" stroke-width="1" />
<line x1="71.5" y1="378.3" x2="76.7" y2="378.3" stroke="#e2382c" stroke-width="1" />
<rect x="72" y="372.5" width="4.2" height="4.2" fill="#e2382c" />
<line x1="122.7" y1="364.9" x2="122.7" y2="373.5" stroke="#e2382c" stroke-width="1" />
<line x1="120.1" y1="364.9" x2="125.3" y2="364.9" stroke="#e2382c" stroke-width="1" />
<line x1="120.1" y1="373.5" x2="125.3" y2="373.5" stroke="#e2382c" stroke-width="1" />
<rect x="120.6" y="367.8" width="4.2" height="4.2" fill="#e2382c" />
<line x1="171" y1="366.6" x2="171" y2="376.9" stroke="#e2382c" stroke-width="1" />
<line x1="168.4" y1="366.6" x2="173.6" y2="366.6" stroke="#e2382c" stroke-width="1" />
<line x1="168.4" y1="376.9" x2="173.6" y2="376.9" stroke="#e2382c" stroke-width="1" />
<rect x="168.9" y="369.8" width="4.2" height="4.2" fill="#e2382c" />
<line x1="195.1" y1="360.2" x2="195.1" y2="383.2" stroke="#e2382c" stroke-width="1" />
<line x1="192.5" y1="360.2" x2="197.7" y2="360.2" stroke="#e2382c" stroke-width="1" />
<line x1="192.5" y1="383.2" x2="197.7" y2="383.2" stroke="#e2382c" stroke-width="1" />
<rect x="193" y="369.8" width="4.2" height="4.2" fill="#e2382c" />
<line x1="74.1" y1="374" x2="74.1" y2="385.7" stroke="#3a52b4" stroke-width="1" />
<line x1="71.5" y1="374" x2="76.7" y2="374" stroke="#3a52b4" stroke-width="1" />
<line x1="71.5" y1="385.7" x2="76.7" y2="385.7" stroke="#3a52b4" stroke-width="1" />
<circle cx="74.1" cy="379.6" r="2.2" fill="#3a52b4"/>
<line x1="122.7" y1="391.3" x2="122.7" y2="396.8" stroke="#3a52b4" stroke-width="1" />
<line x1="120.1" y1="391.3" x2="125.3" y2="391.3" stroke="#3a52b4" stroke-width="1" />
<line x1="120.1" y1="396.8" x2="125.3" y2="396.8" stroke="#3a52b4" stroke-width="1" />
<circle cx="122.7" cy="394.1" r="2.2" fill="#3a52b4"/>
<line x1="171" y1="403.2" x2="171" y2="412.4" stroke="#3a52b4" stroke-width="1" />
<line x1="168.4" y1="403.2" x2="173.6" y2="403.2" stroke="#3a52b4" stroke-width="1" />
<line x1="168.4" y1="412.4" x2="173.6" y2="412.4" stroke="#3a52b4" stroke-width="1" />
<circle cx="171.0" cy="408.2" r="2.2" fill="#3a52b4"/>
<line x1="195.1" y1="413.8" x2="195.1" y2="422.6" stroke="#3a52b4" stroke-width="1" />
<line x1="192.5" y1="413.8" x2="197.7" y2="413.8" stroke="#3a52b4" stroke-width="1" />
<line x1="192.5" y1="422.6" x2="197.7" y2="422.6" stroke="#3a52b4" stroke-width="1" />
<circle cx="195.1" cy="418.5" r="2.2" fill="#3a52b4"/>
<polyline points="199.8,371.9 204.3,371.9 204.3,419 199.8,419" stroke="#555" stroke-width="1" fill="none" stroke-linejoin="miter" />
<path d="M210.50,393.95L210.50,398.85M208.38,395.17L212.62,397.62M212.62,395.17L208.38,397.62" stroke="#111" stroke-width="1.4" fill="none"/>
<line x1="65.3" y1="344" x2="77.7" y2="344" stroke="#3a52b4" stroke-width="1.6" />
<circle cx="71.3" cy="344.0" r="2.3" fill="#3a52b4"/>
<text x="83.3" y="348" font-size="11" text-anchor="start" fill="#111" >RRN3(S199A)</text>
<line x1="65.3" y1="357.6" x2="77.7" y2="357.6" stroke="#e2382c" stroke-width="1.6" />
<rect x="69.2" y="355.5" width="4.2" height="4.2" fill="#e2382c" />
<text x="83.3" y="361.5" font-size="11" text-anchor="start" fill="#111" >RRN3(S199D)</text>
<text x="221" y="328" font-size="14.6" text-anchor="start" fill="#000" font-weight="bold" >G</text>
<line x1="281.2" y1="342.8" x2="281.2" y2="440.1" stroke="#1a1a1a" stroke-width="1.2" />
<line x1="276.5" y1="343.3" x2="281.2" y2="343.3" stroke="#1a1a1a" stroke-width="1.1" />
<text x="275.6" y="347.5" font-size="11.8" text-anchor="end" fill="#111" >2.0</text>
<line x1="276.5" y1="367.5" x2="281.2" y2="367.5" stroke="#1a1a1a" stroke-width="1.1" />
<text x="275.6" y="371.7" font-size="11.8" text-anchor="end" fill="#111" >1.5</text>
<line x1="276.5" y1="391.7" x2="281.2" y2="391.7" stroke="#1a1a1a" stroke-width="1.1" />
<text x="275.6" y="395.9" font-size="11.8" text-anchor="end" fill="#111" >1.0</text>
<line x1="276.5" y1="415.9" x2="281.2" y2="415.9" stroke="#1a1a1a" stroke-width="1.1" />
<text x="275.6" y="420.1" font-size="11.8" text-anchor="end" fill="#111" >0.5</text>
<line x1="276.5" y1="440.1" x2="281.2" y2="440.1" stroke="#1a1a1a" stroke-width="1.1" />
<text x="275.6" y="444.3" font-size="11.8" text-anchor="end" fill="#111" >0.0</text>
<line x1="281.2" y1="440.1" x2="356.8" y2="440.1" stroke="#1a1a1a" stroke-width="1.2" />
<text x="258.1" y="399" font-size="11.25" text-anchor="middle" fill="#111" transform="rotate(-90 258.1 399)" >Total OPTN mRNA levels</text>
<rect x="292.6" y="392.1" width="20" height="48" fill="#3a55a5" />
<line x1="302.6" y1="392.1" x2="302.6" y2="389.8" stroke="#3a55a5" stroke-width="1.1" />
<line x1="296.8" y1="389.8" x2="307.8" y2="389.8" stroke="#3a55a5" stroke-width="1.2" />
<rect x="324.9" y="357.9" width="19.9" height="82.2" fill="#e33b2e" />
<line x1="334.85" y1="357.9" x2="334.85" y2="351.4" stroke="#e33b2e" stroke-width="1.1" />
<line x1="329.6" y1="351.4" x2="340.1" y2="351.4" stroke="#e33b2e" stroke-width="1.2" />
<path d="M331.50,343.80L331.50,348.80M329.33,345.05L333.67,347.55M333.67,345.05L329.33,347.55" stroke="#111" stroke-width="1.4" fill="none"/>
<path d="M337.70,343.80L337.70,348.80M335.53,345.05L339.87,347.55M339.87,345.05L335.53,347.55" stroke="#111" stroke-width="1.4" fill="none"/>
<text x="307.8" y="447.7" font-size="11.2" text-anchor="end" fill="#111" transform="rotate(-45 307.8 447.7)" >Ctrl</text>
<text x="340.6" y="445.6" font-size="11.2" text-anchor="end" fill="#111" transform="rotate(-45 340.6 445.6)" >Rapamycin</text>
<text x="389" y="395.4" font-size="9" text-anchor="end" fill="#111" >100 KD</text>
<line x1="389" y1="392.2" x2="395.5" y2="392.2" stroke="#1a1a1a" stroke-width="1" />
<text x="389" y="409.2" font-size="9" text-anchor="end" fill="#111" >70 KD</text>
<line x1="389" y1="406" x2="395.5" y2="406" stroke="#1a1a1a" stroke-width="1" />
<text x="389" y="427.7" font-size="9" text-anchor="end" fill="#111" >50 KD</text>
<line x1="389" y1="424.5" x2="395.5" y2="424.5" stroke="#1a1a1a" stroke-width="1" />
<text x="389" y="441.5" font-size="9" text-anchor="end" fill="#111" >40 KD</text>
<line x1="389" y1="438.3" x2="395.5" y2="438.3" stroke="#1a1a1a" stroke-width="1" />
<rect x="395.9" y="385.4" width="42.3" height="28.3" fill="url(#gBlot)" stroke="#2a2a2a" stroke-width="1.3"/>
<rect x="395.9" y="417.3" width="42.3" height="25.8" fill="url(#gBlot)" stroke="#2a2a2a" stroke-width="1.3"/>
<ellipse cx="408.05" cy="400.25" rx="8.55" ry="3.90" fill="#c8c8c8" filter="url(#blur2)"/>
<path d="M400.00,400.85 C400.72,399.24 402.42,398.55 404.83,398.55 L411.27,398.55 C413.69,398.55 415.38,399.24 416.10,400.85 C415.38,402.46 413.69,403.15 411.27,403.15 L404.83,403.15 C402.42,403.15 400.72,402.46 400.00,400.85 Z" fill="#000" filter="url(#blur3)"/>
<ellipse cx="427.40" cy="400.30" rx="8.80" ry="4.20" fill="#c8c8c8" filter="url(#blur2)"/>
<path d="M419.10,400.90 C419.85,399.08 421.59,398.30 424.08,398.30 L430.72,398.30 C433.21,398.30 434.95,399.08 435.70,400.90 C434.95,402.72 433.21,403.50 430.72,403.50 L424.08,403.50 C421.59,403.50 419.85,402.72 419.10,400.90 Z" fill="#000" filter="url(#blur3)"/>
<ellipse cx="408.30" cy="431.10" rx="8.80" ry="3.60" fill="#d0d0d0" filter="url(#blur2)"/>
<path d="M400.00,431.70 C400.75,430.30 402.49,429.70 404.98,429.70 L411.62,429.70 C414.11,429.70 415.85,430.30 416.60,431.70 C415.85,433.10 414.11,433.70 411.62,433.70 L404.98,433.70 C402.49,433.70 400.75,433.10 400.00,431.70 Z" fill="#000" filter="url(#blur3)"/>
<ellipse cx="427.15" cy="431.15" rx="8.55" ry="3.45" fill="#d0d0d0" filter="url(#blur2)"/>
<path d="M419.10,431.75 C419.82,430.45 421.52,429.90 423.93,429.90 L430.37,429.90 C432.78,429.90 434.48,430.45 435.20,431.75 C434.48,433.05 432.78,433.60 430.37,433.60 L423.93,433.60 C421.52,433.60 419.82,433.05 419.10,431.75 Z" fill="#000" filter="url(#blur3)"/>
<text x="443" y="403.4" font-size="9.8" text-anchor="start" fill="#111" >OPTN</text>
<text x="443" y="436.6" font-size="9.8" text-anchor="start" fill="#111" >β-actin</text>
<text x="415.5" y="372.3" font-size="9.6" text-anchor="end" fill="#111" transform="rotate(-45 415.5 372.3)" >Ctrl</text>
<text x="464.8" y="348" font-size="9.6" text-anchor="end" fill="#111" transform="rotate(-45 464.8 348)" >Rapamycin</text>
<text x="503.6" y="327.8" font-size="14.6" text-anchor="start" fill="#000" font-weight="bold" >H</text>
<line x1="557.2" y1="325.4" x2="557.2" y2="461.5" stroke="#1a1a1a" stroke-width="1.2" />
<line x1="551" y1="325.8" x2="557.2" y2="325.8" stroke="#1a1a1a" stroke-width="1.1" />
<line x1="551" y1="352.6" x2="557.2" y2="352.6" stroke="#1a1a1a" stroke-width="1.1" />
<line x1="551" y1="380.3" x2="557.2" y2="380.3" stroke="#1a1a1a" stroke-width="1.1" />
<line x1="551" y1="407.4" x2="557.2" y2="407.4" stroke="#1a1a1a" stroke-width="1.1" />
<line x1="551" y1="434.4" x2="557.2" y2="434.4" stroke="#1a1a1a" stroke-width="1.1" />
<line x1="551" y1="461.5" x2="557.2" y2="461.5" stroke="#1a1a1a" stroke-width="1.1" />
<text x="549.4" y="330.6" font-size="11.2" text-anchor="end" fill="#111" >2.5</text>
<text x="549.4" y="367.3" font-size="11.2" text-anchor="end" fill="#111" >2.0</text>
<text x="549.4" y="384.3" font-size="11.2" text-anchor="end" fill="#111" >1.5</text>
<text x="549.4" y="411.6" font-size="11.2" text-anchor="end" fill="#111" >1.0</text>
<text x="549.4" y="438.4" font-size="11.2" text-anchor="end" fill="#111" >0.5</text>
<text x="549.4" y="465.5" font-size="11.2" text-anchor="end" fill="#111" >0.0</text>
<line x1="557.2" y1="461.5" x2="677" y2="461.5" stroke="#1a1a1a" stroke-width="1.2" />
<text x="529.4" y="397.3" font-size="11" text-anchor="middle" fill="#111" transform="rotate(-90 529.4 397.3)" >3’UTR-LN/3’UTR-All</text>
<rect x="564.6" y="408.7" width="10.5" height="52.8" fill="#3a52a8" />
<line x1="569.85" y1="408.7" x2="569.85" y2="406.3" stroke="#3a52a8" stroke-width="1.1" />
<line x1="566.85" y1="406.3" x2="572.85" y2="406.3" stroke="#3a52a8" stroke-width="1.1" />
<rect x="583.2" y="405.1" width="10.5" height="56.4" fill="#e43a2e" />
<line x1="588.45" y1="405.1" x2="588.45" y2="403.2" stroke="#e43a2e" stroke-width="1.1" />
<line x1="585.45" y1="403.2" x2="591.45" y2="403.2" stroke="#e43a2e" stroke-width="1.1" />
<rect x="602" y="399" width="10.5" height="62.5" fill="#5ad02c" />
<line x1="607.25" y1="399" x2="607.25" y2="397.2" stroke="#5ad02c" stroke-width="1.1" />
<line x1="604.25" y1="397.2" x2="610.25" y2="397.2" stroke="#5ad02c" stroke-width="1.1" />
<rect x="620.8" y="387.9" width="10.5" height="73.6" fill="#8a8ed6" />
<line x1="626.05" y1="387.9" x2="626.05" y2="385.4" stroke="#8a8ed6" stroke-width="1.1" />
<line x1="623.05" y1="385.4" x2="629.05" y2="385.4" stroke="#8a8ed6" stroke-width="1.1" />
<rect x="639.2" y="387.9" width="10.5" height="73.6" fill="#f4a3aa" />
<line x1="644.45" y1="387.9" x2="644.45" y2="385.4" stroke="#f4a3aa" stroke-width="1.1" />
<line x1="641.45" y1="385.4" x2="647.45" y2="385.4" stroke="#f4a3aa" stroke-width="1.1" />
<rect x="657.8" y="360.7" width="10.5" height="100.8" fill="#c4f594" />
<polyline points="569.2,399.8 569.2,393.6 588.6,393.6 588.6,399.8" stroke="#484848" stroke-width="1.05" fill="none" stroke-linejoin="miter" />
<text x="578.5" y="388" font-size="10.6" text-anchor="middle" fill="#111" >ns</text>
<polyline points="569.2,382.2 569.2,375.8 607.3,375.8 607.3,382.2" stroke="#484848" stroke-width="1.05" fill="none" stroke-linejoin="miter" />
<path d="M587.80,367.90L587.80,374.30M585.03,369.50L590.57,372.70M590.57,369.50L585.03,372.70" stroke="#111" stroke-width="1.5" fill="none"/>
<polyline points="569.2,373.8 569.2,367.3 625.6,367.3 625.6,373.8" stroke="#484848" stroke-width="1.05" fill="none" stroke-linejoin="miter" />
<path d="M592.00,359.10L592.00,365.50M589.23,360.70L594.77,363.90M594.77,360.70L589.23,363.90" stroke="#111" stroke-width="1.5" fill="none"/>
<path d="M598.70,359.10L598.70,365.50M595.93,360.70L601.47,363.90M601.47,360.70L595.93,363.90" stroke="#111" stroke-width="1.5" fill="none"/>
<polyline points="625.2,382.1 625.2,375.4 645.9,375.4 645.9,382.1" stroke="#484848" stroke-width="1.05" fill="none" stroke-linejoin="miter" />
<text x="635.2" y="371.7" font-size="10.6" text-anchor="middle" fill="#111" >ns</text>
<polyline points="625.6,361 625.6,354.4 663.5,354.4 663.5,361" stroke="#484848" stroke-width="1.05" fill="none" stroke-linejoin="miter" />
<path d="M644.90,346.30L644.90,352.70M642.13,347.90L647.67,351.10M647.67,347.90L642.13,351.10" stroke="#111" stroke-width="1.5" fill="none"/>
<text x="574.1" y="469.2" font-size="10.8" text-anchor="end" fill="#111" transform="rotate(-45 574.1 469.2)" >WT</text>
<text x="593.1" y="470.2" font-size="10.8" text-anchor="end" fill="#111" transform="rotate(-45 593.1 470.2)" >S199A</text>
<text x="612.3" y="470.2" font-size="10.8" text-anchor="end" fill="#111" transform="rotate(-45 612.3 470.2)" >S199D</text>
<text x="633.3" y="468.2" font-size="10.8" text-anchor="end" fill="#111" transform="rotate(-45 633.3 468.2)" >WT(Rapa)</text>
<text x="651.5" y="469.2" font-size="10.8" text-anchor="end" fill="#111" transform="rotate(-45 651.5 469.2)" >S199A(Rapa)</text>
<text x="669.6" y="469.2" font-size="10.8" text-anchor="end" fill="#111" transform="rotate(-45 669.6 469.2)" >S199D(Rapa)</text>
<text x="0.8" y="501.2" font-size="14.6" text-anchor="start" fill="#000" font-weight="bold" >I</text>
<circle cx="43.95" cy="551.5" r="24.2" fill="none" stroke="#111" stroke-width="1.3"/>
<path d="M23.02,540.37 A23.7,23.7 0 0 1 44.36,527.80" stroke="#3dbb4a" stroke-width="5.4" fill="none"/>
<path d="M44.37,527.30 A24.2,24.2 0 0 1 49.39,527.92" stroke="#2e2e9a" stroke-width="2.2" fill="none"/>
<path d="M60.45,569.20 A24.2,24.2 0 0 1 43.53,575.70" stroke="#c4a266" stroke-width="5.6" fill="none"/>
<text x="44.1" y="553.6" font-size="8.5" text-anchor="middle" fill="#4a4aaa" >3’UTR-S</text>
<text x="18.6" y="533.8" font-size="8.8" text-anchor="start" fill="#3dbb4a" transform="rotate(-36 18.6 533.8)" >OPTN</text>
<text x="44.6" y="525.1" font-size="7.2" text-anchor="start" fill="#3dbb4a" transform="rotate(15 44.6 525.1)" >3’UTR</text>
<text x="15.8" y="560.0" font-size="8.4" font-style="italic" fill="#222" transform="rotate(-90 15.8 560.0)">P</text>
<text x="16.2" y="554.8" font-size="5.0" fill="#222" textLength="17.0" lengthAdjust="spacingAndGlyphs" transform="rotate(-90 16.2 554.8)">EF1α</text>
<text x="48.9" y="585.8" font-size="8.2" text-anchor="start" fill="#222" transform="rotate(-20 48.9 585.8)" >BSD</text>
<text x="33.38" y="531.89" font-size="5.2" text-anchor="middle" fill="#e4f6e4" transform="rotate(333.5 33.38 530.29)">CDS</text>
<path d="M17.3,547.2 L18.599999999999998,544.0 M16.9,544.8 L18.7,543.6 L19.4,545.3" stroke="#3dbb4a" stroke-width="0.8" fill="none"/>
<circle cx="45.85" cy="622.7" r="24.3" fill="none" stroke="#111" stroke-width="1.3"/>
<path d="M25.03,611.16 A23.8,23.8 0 0 1 46.06,598.90" stroke="#3dbb4a" stroke-width="5.4" fill="none"/>
<path d="M46.06,598.40 A24.3,24.3 0 0 1 56.50,600.86" stroke="#e8372c" stroke-width="3.0" fill="none"/>
<path d="M61.14,641.58 A24.3,24.3 0 0 1 45.00,646.99" stroke="#c4a266" stroke-width="5.6" fill="none"/>
<text x="45.55" y="624.8" font-size="8.5" text-anchor="middle" fill="#e8372c" >3’UTR-LN</text>
<text x="20" y="606" font-size="8.8" text-anchor="start" fill="#3dbb4a" transform="rotate(-33 20 606)" >OPTN</text>
<text x="46.8" y="597" font-size="7.2" text-anchor="start" fill="#3dbb4a" transform="rotate(12 46.8 597)" >3’UTR</text>
<text x="17.3" y="631.7" font-size="8.4" font-style="italic" fill="#222" transform="rotate(-90 17.3 631.7)">P</text>
<text x="17.7" y="626.0" font-size="5.0" fill="#222" textLength="16.3" lengthAdjust="spacingAndGlyphs" transform="rotate(-90 17.7 626.0)">EF1α</text>
<text x="51.6" y="657.4" font-size="8.2" text-anchor="start" fill="#222" transform="rotate(-22 51.6 657.4)" >BSD</text>
<text x="35.32" y="602.95" font-size="5.2" text-anchor="middle" fill="#e4f6e4" transform="rotate(333.8 35.32 601.35)">CDS</text>
<path d="M18.400000000000002,617.5 L19.7,614.3 M18.0,615.0999999999999 L19.8,613.9 L20.5,615.5999999999999" stroke="#3dbb4a" stroke-width="0.8" fill="none"/>
<line x1="118.5" y1="516.6" x2="118.5" y2="635.5" stroke="#1a1a1a" stroke-width="1.2" />
<line x1="113" y1="516.9" x2="118.5" y2="516.9" stroke="#1a1a1a" stroke-width="1.1" />
<text x="111.8" y="521" font-size="11.2" text-anchor="end" fill="#111" >2.0</text>
<line x1="113" y1="546.55" x2="118.5" y2="546.55" stroke="#1a1a1a" stroke-width="1.1" />
<text x="111.8" y="550.65" font-size="11.2" text-anchor="end" fill="#111" >1.5</text>
<line x1="113" y1="576.2" x2="118.5" y2="576.2" stroke="#1a1a1a" stroke-width="1.1" />
<text x="111.8" y="580.3" font-size="11.2" text-anchor="end" fill="#111" >1.0</text>
<line x1="113" y1="605.85" x2="118.5" y2="605.85" stroke="#1a1a1a" stroke-width="1.1" />
<text x="111.8" y="609.95" font-size="11.2" text-anchor="end" fill="#111" >0.5</text>
<line x1="113" y1="635.5" x2="118.5" y2="635.5" stroke="#1a1a1a" stroke-width="1.1" />
<text x="111.8" y="639.6" font-size="11.2" text-anchor="end" fill="#111" >0.0</text>
<line x1="118.5" y1="635.5" x2="198.1" y2="635.5" stroke="#1a1a1a" stroke-width="1.2" />
<text x="92" y="579.4" font-size="11.25" text-anchor="middle" fill="#111" transform="rotate(-90 92 579.4)" >OPTN/BSD mRNA levles</text>
<rect x="130.4" y="577.3" width="20.8" height="58.2" fill="#2e3192" />
<line x1="140.8" y1="577.3" x2="140.8" y2="570.4" stroke="#2e3192" stroke-width="1.1" />
<line x1="135.2" y1="570.4" x2="146.4" y2="570.4" stroke="#2e3192" stroke-width="1.2" />
<rect x="164.8" y="537.1" width="20.8" height="98.4" fill="#e43a2c" />
<line x1="175.2" y1="537.1" x2="175.2" y2="526.3" stroke="#e43a2c" stroke-width="1.1" />
<line x1="169.6" y1="526.3" x2="180.8" y2="526.3" stroke="#e43a2c" stroke-width="1.2" />
<polyline points="139.3,522.7 139.3,516.9 174.8,516.9 174.8,522.7" stroke="#484848" stroke-width="1.05" fill="none" stroke-linejoin="miter" />
<path d="M156.40,509.00L156.40,513.80M154.32,510.20L158.48,512.60M158.48,510.20L154.32,512.60" stroke="#111" stroke-width="1.4" fill="none"/>
<text x="146.2" y="643.7" font-size="11" text-anchor="end" fill="#111" transform="rotate(-45 146.2 643.7)" >3’UTR-S</text>
<text x="183.6" y="642.9" font-size="11" text-anchor="end" fill="#111" transform="rotate(-45 183.6 642.9)" >3’UTR-LN</text>
<text x="234" y="501.2" font-size="14.6" text-anchor="start" fill="#000" font-weight="bold" >J</text>
<line x1="277.4" y1="516.2" x2="277.4" y2="635.3" stroke="#1a1a1a" stroke-width="1.2" />
<line x1="271.4" y1="516.5" x2="277.4" y2="516.5" stroke="#1a1a1a" stroke-width="1.1" />
<text x="270.8" y="520.6" font-size="11.2" text-anchor="end" fill="#111" >1.5</text>
<line x1="271.4" y1="556.1" x2="277.4" y2="556.1" stroke="#1a1a1a" stroke-width="1.1" />
<text x="270.8" y="560.2" font-size="11.2" text-anchor="end" fill="#111" >1.0</text>
<line x1="271.4" y1="595.7" x2="277.4" y2="595.7" stroke="#1a1a1a" stroke-width="1.1" />
<text x="270.8" y="599.8" font-size="11.2" text-anchor="end" fill="#111" >0.5</text>
<line x1="271.4" y1="635.3" x2="277.4" y2="635.3" stroke="#1a1a1a" stroke-width="1.1" />
<text x="270.8" y="639.4" font-size="11.2" text-anchor="end" fill="#111" >0.0</text>
<line x1="277.4" y1="635.3" x2="406.9" y2="635.3" stroke="#1a1a1a" stroke-width="1.2" />
<line x1="277.4" y1="635.3" x2="277.4" y2="638.9" stroke="#1a1a1a" stroke-width="1.1" />
<text x="277.4" y="651" font-size="11.2" text-anchor="middle" fill="#111" >0</text>
<line x1="318.4" y1="635.3" x2="318.4" y2="638.9" stroke="#1a1a1a" stroke-width="1.1" />
<text x="318.4" y="651" font-size="11.2" text-anchor="middle" fill="#111" >4</text>
<line x1="359.6" y1="635.3" x2="359.6" y2="638.9" stroke="#1a1a1a" stroke-width="1.1" />
<text x="359.6" y="651" font-size="11.2" text-anchor="middle" fill="#111" >6</text>
<line x1="401" y1="635.3" x2="401" y2="638.9" stroke="#1a1a1a" stroke-width="1.1" />
<text x="401" y="651" font-size="11.2" text-anchor="middle" fill="#111" >8</text>
<text x="343.6" y="665.5" font-size="10.8" text-anchor="middle" fill="#111" >Act D (h)</text>
<text x="251.7" y="579.2" font-size="11.2" text-anchor="middle" fill="#111" transform="rotate(-90 251.7 579.2)" >OPTN mRNA levels</text>
<polyline points="277.4,555.9 318.4,614.3 401,615.8" stroke="#4a4ab0" stroke-width="1.35" fill="none" stroke-linejoin="miter" />
<polyline points="277.4,555.9 318.4,582.2 359.6,591 401,587.2" stroke="#e8483a" stroke-width="1.35" fill="none" stroke-linejoin="miter" />
<line x1="277.4" y1="547.7" x2="277.4" y2="564.7" stroke="#4a4ab0" stroke-width="1.1" />
<line x1="274.8" y1="547.7" x2="280" y2="547.7" stroke="#4a4ab0" stroke-width="1.1" />
<line x1="274.8" y1="564.7" x2="280" y2="564.7" stroke="#4a4ab0" stroke-width="1.1" />
<line x1="401" y1="610.8" x2="401" y2="621" stroke="#4a4ab0" stroke-width="1.1" />
<line x1="398.4" y1="610.8" x2="403.6" y2="610.8" stroke="#4a4ab0" stroke-width="1.1" />
<line x1="398.4" y1="621" x2="403.6" y2="621" stroke="#4a4ab0" stroke-width="1.1" />
<line x1="277.4" y1="549.5" x2="277.4" y2="562.5" stroke="#e8483a" stroke-width="1.1" />
<line x1="274.8" y1="549.5" x2="280" y2="549.5" stroke="#e8483a" stroke-width="1.1" />
<line x1="274.8" y1="562.5" x2="280" y2="562.5" stroke="#e8483a" stroke-width="1.1" />
<line x1="318.4" y1="574" x2="318.4" y2="591" stroke="#e8483a" stroke-width="1.1" />
<line x1="315.8" y1="574" x2="321" y2="574" stroke="#e8483a" stroke-width="1.1" />
<line x1="315.8" y1="591" x2="321" y2="591" stroke="#e8483a" stroke-width="1.1" />
<line x1="359.6" y1="589" x2="359.6" y2="593" stroke="#e8483a" stroke-width="1.1" />
<line x1="357" y1="589" x2="362.2" y2="589" stroke="#e8483a" stroke-width="1.1" />
<line x1="357" y1="593" x2="362.2" y2="593" stroke="#e8483a" stroke-width="1.1" />
<line x1="401" y1="582.8" x2="401" y2="591" stroke="#e8483a" stroke-width="1.1" />
<line x1="398.4" y1="582.8" x2="403.6" y2="582.8" stroke="#e8483a" stroke-width="1.1" />
<line x1="398.4" y1="591" x2="403.6" y2="591" stroke="#e8483a" stroke-width="1.1" />
<rect x="275" y="553.5" width="4.8" height="4.8" fill="none" stroke="#4a4ab0" stroke-width="1.3"/>
<rect x="316" y="611.9" width="4.8" height="4.8" fill="none" stroke="#4a4ab0" stroke-width="1.3"/>
<rect x="398.6" y="613.4" width="4.8" height="4.8" fill="none" stroke="#4a4ab0" stroke-width="1.3"/>
<circle cx="277.4" cy="555.9" r="2.6" fill="none" stroke="#e8483a" stroke-width="1.2"/>
<circle cx="318.4" cy="582.2" r="2.6" fill="none" stroke="#e8483a" stroke-width="1.2"/>
<circle cx="401.0" cy="587.2" r="2.6" fill="none" stroke="#e8483a" stroke-width="1.2"/>
<rect x="357.3" y="588.7" width="4.6" height="4.6" fill="none" stroke="#e8483a" stroke-width="1.2"/>
<path d="M397.30,569.10L397.30,574.90M394.79,570.55L399.81,573.45M399.81,570.55L394.79,573.45" stroke="#111" stroke-width="1.5" fill="none"/>
<path d="M404.60,569.10L404.60,574.90M402.09,570.55L407.11,573.45M407.11,570.55L402.09,573.45" stroke="#111" stroke-width="1.5" fill="none"/>
<line x1="287.7" y1="524.4" x2="301.8" y2="524.4" stroke="#4a4ab0" stroke-width="1.3" />
<rect x="292.5" y="522.1" width="4.6" height="4.6" fill="#fff" stroke="#4a4ab0" stroke-width="1.1"/>
<text x="307.6" y="528.2" font-size="10" text-anchor="start" fill="#111" >3’UTR-S</text>
<line x1="287.7" y1="533.4" x2="301.8" y2="533.4" stroke="#e8483a" stroke-width="1.3" />
<circle cx="294.8" cy="533.4" r="2.5" fill="#fff" stroke="#e8483a" stroke-width="1.1"/>
<text x="307.6" y="537.2" font-size="10" text-anchor="start" fill="#111" >3’UTR-LN</text>
</svg>
</body></html>
